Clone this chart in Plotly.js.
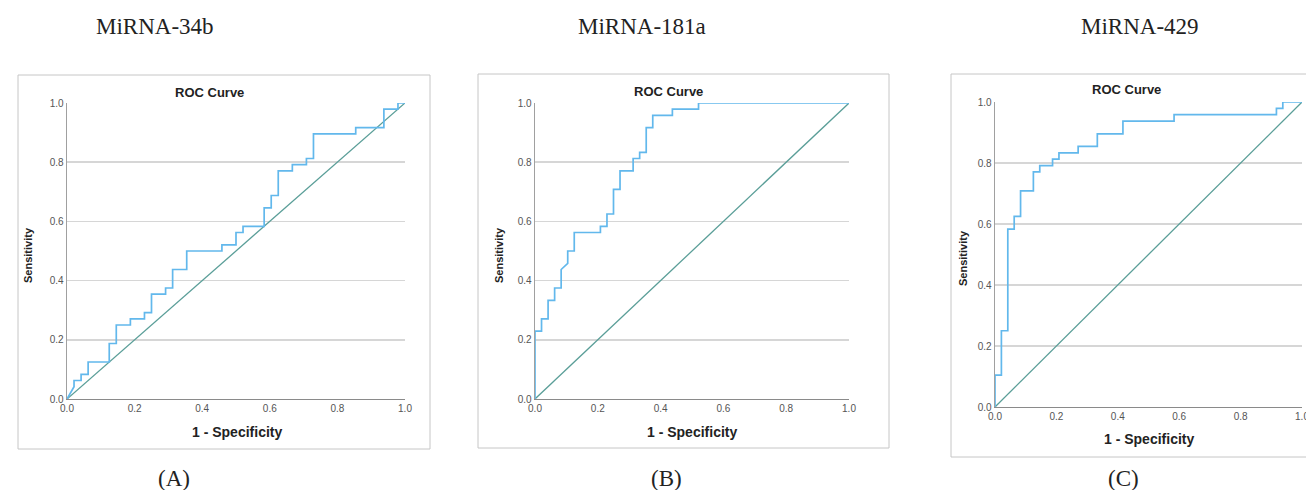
<!DOCTYPE html>
<html>
<head>
<meta charset="utf-8">
<script src="https://cdn.plot.ly/plotly-3.0.1.min.js"></script>
<style>html,body{margin:0;padding:0;background:#fff;}#chart{width:1306px;height:490px;}</style>
</head>
<body>
<div id="chart"></div>
<script>
// ---- data ----
const panelTitles = ["MiRNA-34b", "MiRNA-181a", "MiRNA-429"];
const panelLabels = ["(A)", "(B)", "(C)"];
const chartTitle = "ROC Curve";
const xTitle = "1 - Specificity";
const yTitle = "Sensitivity";
const tickVals = [0, 0.2, 0.4, 0.6, 0.8, 1.0];
const tickText = ["0.0", "0.2", "0.4", "0.6", "0.8", "1.0"];
const refX = [0, 1];
const refY = [0, 1];

// MiRNA-34b ROC (corner points)
const fprA = [0,0.0208,0.0208,0.0417,0.0417,0.0625,0.0625,0.125,0.125,0.1458,0.1458,0.1875,0.1875,0.2292,0.2292,0.25,0.25,0.2917,0.2917,0.3125,0.3125,0.3542,0.3542,0.4583,0.4583,0.5,0.5,0.5208,0.5208,0.5833,0.5833,0.6042,0.6042,0.625,0.625,0.6667,0.6667,0.7083,0.7083,0.7292,0.7292,0.8542,0.8542,0.9375,0.9375,0.9792,0.9792,1];
const tprA = [0,0.0417,0.0625,0.0625,0.0833,0.0833,0.125,0.125,0.1875,0.1875,0.25,0.25,0.2708,0.2708,0.2917,0.2917,0.3542,0.3542,0.375,0.375,0.4375,0.4375,0.5,0.5,0.5208,0.5208,0.5625,0.5625,0.5833,0.5833,0.6458,0.6458,0.6875,0.6875,0.7708,0.7708,0.7917,0.7917,0.8125,0.8125,0.8958,0.8958,0.9167,0.9167,0.9792,0.9792,1,1];

// MiRNA-181a ROC
const fprB = [0,0,0.0208,0.0208,0.0417,0.0417,0.0625,0.0625,0.0833,0.0833,0.1042,0.1042,0.125,0.125,0.2083,0.2083,0.2292,0.2292,0.25,0.25,0.2708,0.2708,0.3125,0.3125,0.3333,0.3333,0.3542,0.3542,0.375,0.375,0.4375,0.4375,0.5208,0.5208,1];
const tprB = [0,0.2292,0.2292,0.2708,0.2708,0.3333,0.3333,0.375,0.375,0.4375,0.4583,0.5,0.5,0.5625,0.5625,0.5833,0.5833,0.625,0.625,0.7083,0.7083,0.7708,0.7708,0.8125,0.8125,0.8333,0.8333,0.9167,0.9167,0.9583,0.9583,0.9792,0.9792,1,1];

// MiRNA-429 ROC
const fprC = [0,0,0.0208,0.0208,0.0417,0.0417,0.0625,0.0625,0.0833,0.0833,0.125,0.125,0.1458,0.1458,0.1875,0.1875,0.2083,0.2083,0.2708,0.2708,0.3333,0.3333,0.4167,0.4167,0.5833,0.5833,0.9167,0.9167,0.9375,0.9375,1];
const tprC = [0,0.1042,0.1042,0.25,0.25,0.5833,0.5833,0.625,0.625,0.7083,0.7083,0.7708,0.7708,0.7917,0.7917,0.8125,0.8125,0.8333,0.8333,0.8542,0.8542,0.8958,0.8958,0.9375,0.9375,0.9583,0.9583,0.9792,0.9792,1,1];

// ---- layout helpers (pixel -> paper) ----
const W = 1306, H = 490;
const px = v => v / W;
const py = v => 1 - v / H;

const rocColor = "#62b8ec";
const refColor = "#5a9e98";

const panels = [
  {fpr: fprA, tpr: tprA, xd: [67, 405], yd: [399, 103], box: [18, 75, 430, 449],
   head: [155, 27], lab: [174, 478], title: [209, 92], ytl: [28, 255], xtl: [237, 432]},
  {fpr: fprB, tpr: tprB, xd: [535, 849], yd: [399, 103], box: [478, 74, 889, 448],
   head: [642, 27], lab: [666, 478], title: [668, 91], ytl: [499, 255], xtl: [692, 432]},
  {fpr: fprC, tpr: tprC, xd: [995, 1302], yd: [407, 102], box: [951, 74, 1312, 457],
   head: [1140, 27], lab: [1123, 478], title: [1126, 90], ytl: [963, 258], xtl: [1149, 439]}
];

const traces = [];
const layout = {
  width: W, height: H,
  margin: {l: 0, r: 0, t: 0, b: 0},
  paper_bgcolor: "#fff", plot_bgcolor: "#fff",
  showlegend: false,
  shapes: [], annotations: [],
  font: {family: "Liberation Sans, Arial, sans-serif"}
};

panels.forEach((p, i) => {
  const n = i === 0 ? "" : String(i + 1);
  const xa = "x" + n, ya = "y" + n;
  traces.push({x: refX, y: refY, xaxis: xa, yaxis: ya, mode: "lines",
    line: {color: refColor, width: 1.3}, hoverinfo: "skip", cliponaxis: false});
  traces.push({x: p.fpr, y: p.tpr, xaxis: xa, yaxis: ya, mode: "lines",
    line: {color: rocColor, width: 1.7}, cliponaxis: false});

  layout["xaxis" + n] = {
    domain: [px(p.xd[0]), px(p.xd[1])], anchor: ya, range: [0, 1],
    tickvals: tickVals, ticktext: tickText, tickfont: {size: 10, color: "#555"},
    ticklabeloverflow: "allow",
    showgrid: false, zeroline: false, showline: true, linecolor: "#8a8a8a", linewidth: 1.3,
    ticks: "", fixedrange: true
  };
  layout["yaxis" + n] = {
    domain: [py(p.yd[0]), py(p.yd[1])], anchor: xa, range: [0, 1],
    tickvals: tickVals, ticktext: tickText, tickfont: {size: 10, color: "#555"},
    ticklabeloverflow: "allow",
    showgrid: true, gridcolor: "#d6d6d6", gridwidth: 1.7, zeroline: false,
    showline: true, linecolor: "#a0a0a0", linewidth: 1.3, ticks: "", fixedrange: true
  };

  layout.shapes.push({type: "rect", xref: "paper", yref: "paper",
    x0: px(p.box[0]), x1: px(p.box[2]), y0: py(p.box[3]), y1: py(p.box[1]),
    line: {color: "#c6c6c6", width: 1}, fillcolor: "rgba(0,0,0,0)", layer: "below"});

  const ann = (xy, text, font, extra) => layout.annotations.push(Object.assign({
    xref: "paper", yref: "paper", x: px(xy[0]), y: py(xy[1]), text: text,
    showarrow: false, xanchor: "center", yanchor: "middle", font: font
  }, extra || {}));

  ann(p.head, panelTitles[i], {family: "Liberation Serif, Times New Roman, serif", size: 23, color: "#222"});
  ann(p.lab, panelLabels[i], {family: "Liberation Serif, Times New Roman, serif", size: 23, color: "#222"});
  ann(p.title, "<b>" + chartTitle + "</b>", {size: 13, color: "#222"});
  ann(p.xtl, "<b>" + xTitle + "</b>", {size: 14, color: "#222"});
  ann(p.ytl, "<b>" + yTitle + "</b>", {size: 11, color: "#222"}, {textangle: -90});
});

Plotly.newPlot("chart", traces, layout, {displayModeBar: false, staticPlot: true});
</script>
</body>
</html>
